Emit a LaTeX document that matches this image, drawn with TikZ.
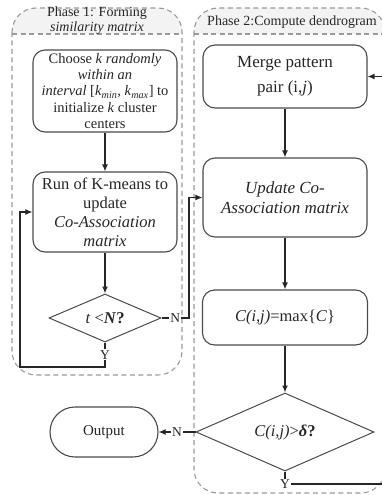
\documentclass[tikz,border=0pt]{standalone}
\usepackage{fontspec}
\setmainfont{Liberation Serif}
\usetikzlibrary{shapes.geometric,arrows.meta}
\definecolor{ink}{HTML}{262626}
\definecolor{rim}{HTML}{4A4A4A}
\definecolor{phase}{HTML}{9A9A9A}
\definecolor{band}{HTML}{F3F3F3}
\begin{document}
\begin{tikzpicture}[x=1pt,y=-1pt,
  txt/.style={text=ink, align=center, inner sep=0pt},
  box/.style={draw=rim, line width=1.1pt, rounded corners=12pt, align=center, inner sep=0pt, text=ink},
  dec/.style={draw=rim, line width=1pt, diamond, aspect=2.3, inner sep=0pt, text=ink},
  flow/.style={draw=ink, line width=1.3pt, -{Latex[length=7pt,width=6pt]}},
  tag/.style={fill=white, inner sep=1pt, text=ink, font=\fontsize{13.5}{13.5}\selectfont},
  phasebox/.style={draw=phase, line width=1.1pt, dash pattern=on 5pt off 3.5pt, rounded corners=24pt},
  phaseline/.style={draw=phase, line width=1.1pt, dash pattern=on 5pt off 3.5pt},
]
\useasboundingbox (0,0) rectangle (382,495);
\clip (0,0) rectangle (382,495);

% phase frames with shaded title bands
\begin{scope}
  \clip[rounded corners=24pt] (12,8) rectangle (182,375);
  \fill[band] (12,8) rectangle (182,34);
\end{scope}
\begin{scope}
  \clip[rounded corners=24pt] (194,8) rectangle (385,493);
  \fill[band] (194,8) rectangle (385,34);
\end{scope}
\draw[phasebox] (12,8) rectangle (182,375);
\draw[phaseline] (12,34) -- (182,34);
\draw[phasebox] (194,8) rectangle (385,493);
\draw[phaseline] (194,34) -- (385,34);

\node[txt, font=\fontsize{14}{15}\selectfont] (title1) at (97,21)
  {Phase 1: Forming\\\textit{similarity matrix}};
\node[txt, font=\fontsize{14}{15}\selectfont] (title2) at (292,22)
  {Phase 2:Compute dendrogram};

% phase 1 steps
\node[box, minimum width=144pt, minimum height=82pt,
      font=\fontsize{14.5}{16.4}\selectfont] (choose) at (105,91)
  {Choose \textit{k randomly}\\
   \textit{within an}\\
   \textit{interval} [\textit{k}\textsubscript{\textit{min}}, \textit{k}\textsubscript{\textit{max}}] to\\
   initialize \textit{k} cluster\\
   centers};
\node[box, minimum width=144pt, minimum height=80pt,
      font=\fontsize{16.5}{19}\selectfont] (run) at (105,212)
  {Run of K-means to\\update\\\textit{Co-Association}\\\textit{matrix}};
\node[dec, minimum width=112pt, minimum height=48pt,
      font=\fontsize{16.5}{19}\selectfont] (tN) at (105,318)
  {\textit{t} <\textbf{\textit{N}}\textbf{?}};

% phase 2 steps
\node[box, minimum width=164pt, minimum height=63pt,
      font=\fontsize{17}{25}\selectfont] (merge) at (285,76.5)
  {Merge pattern\\pair (i,\textit{j})};
\node[box, minimum width=164pt, minimum height=79pt,
      font=\fontsize{17}{20}\selectfont] (update) at (285,197.5)
  {\textit{Update Co-}\\\textit{Association matrix}};
\node[box, minimum width=165pt, minimum height=55pt,
      font=\fontsize{16.5}{19}\selectfont] (cmax) at (285,317.5)
  {\textit{C(i,j)}=max\{\textit{C}\}};
\node[dec, minimum width=178pt, minimum height=78pt,
      font=\fontsize{16.5}{19}\selectfont] (cdelta) at (285,432)
  {\textit{C(i,j)}>\textbf{\textit{δ}}\textbf{?}};
\node[box, rounded corners=25pt, minimum width=108pt, minimum height=50pt,
      font=\fontsize{15}{17}\selectfont] (output) at (104,432) {Output};

% connectors
\draw[flow] (choose) -- (run);
\draw[flow] (run) -- (tN);
\draw[flow] (tN.east) -- node[tag] {N} (189,318) |- (update.west);
\draw[flow] (tN.south) -- node[tag] {Y} (105,367) -| (20,212) -- (run.west);
\draw[flow] (merge) -- (update);
\draw[flow] (update) -- (cmax);
\draw[flow] (cmax) -- (cdelta);
\draw[flow] (cdelta.west) -- node[tag] {N} (output.east);
\draw[flow] (cdelta.south) -- (285,484) node[tag] {Y} -- (400,484) |- (merge.east);
\end{tikzpicture}
\end{document}
